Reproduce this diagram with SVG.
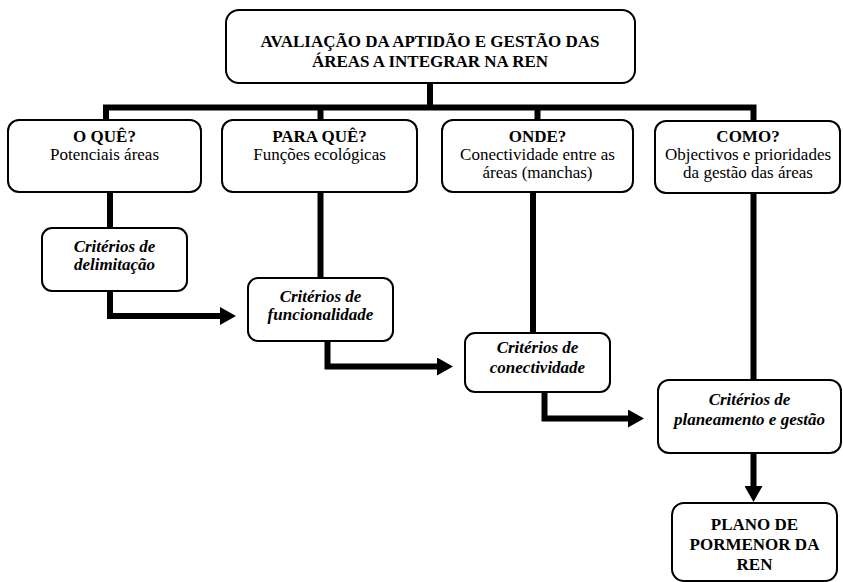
<svg xmlns="http://www.w3.org/2000/svg" width="843" height="582" viewBox="0 0 843 582">
<style>
.box{fill:#fff;stroke:#000;stroke-width:2}
.t{font-family:'Liberation Serif','Times New Roman',serif;font-size:17px;fill:#000;text-anchor:middle}
.b{font-weight:bold}
.bi{font-weight:bold;font-style:italic}
.c{fill:none;stroke:#000;stroke-width:6;stroke-linejoin:miter;stroke-linecap:butt}
</style>
<defs>
<marker id="ah" markerUnits="userSpaceOnUse" markerWidth="16" markerHeight="18" refX="0" refY="9" orient="auto" viewBox="0 0 16 18">
<path d="M0,0 L16,9 L0,18 Z" fill="#000"/>
</marker>
</defs>
<rect width="843" height="582" fill="#fff"/>
<g id="connectors">
<path class="c" d="M430,83 V107.5"/>
<path class="c" d="M106,120 V107.5 H753.5 V121"/>
<path class="c" d="M320.5,107.5 V120"/>
<path class="c" d="M537.5,107.5 V120"/>
<path class="c" d="M110,192 V228"/>
<path class="c" d="M110,291 V316 H220" marker-end="url(#ah)"/>
<path class="c" d="M320.5,192 V278"/>
<path class="c" d="M327.5,341 V366.5 H437" marker-end="url(#ah)"/>
<path class="c" d="M533,192 V333"/>
<path class="c" d="M544.5,392 V418.5 H628" marker-end="url(#ah)"/>
<path class="c" d="M753.5,193 V380"/>
<path class="c" d="M753.5,453 V486" marker-end="url(#ah)"/>
</g>
<g id="n-top">
<rect class="box" x="226" y="10" width="409" height="73" rx="13"/>
<text class="t b" x="430" y="47">AVALIAÇÃO DA APTIDÃO E GESTÃO DAS</text>
<text class="t b" x="430" y="67">ÁREAS A INTEGRAR NA REN</text>
</g>
<g id="n-oque">
<rect class="box" x="8" y="120" width="193" height="72" rx="11"/>
<text class="t b" x="104.5" y="142">O QUÊ?</text>
<text class="t" x="104.5" y="160">Potenciais áreas</text>
</g>
<g id="n-paraque">
<rect class="box" x="222" y="120" width="195" height="72" rx="11"/>
<text class="t b" x="319.5" y="142">PARA QUÊ?</text>
<text class="t" x="319.5" y="160">Funções ecológicas</text>
</g>
<g id="n-onde">
<rect class="box" x="442" y="120" width="191" height="72" rx="11"/>
<text class="t b" x="537.5" y="142">ONDE?</text>
<text class="t" x="537.5" y="160">Conectividade entre as</text>
<text class="t" x="537.5" y="178">áreas (manchas)</text>
</g>
<g id="n-como">
<rect class="box" x="655" y="121" width="185" height="72" rx="11"/>
<text class="t b" x="748" y="142">COMO?</text>
<text class="t" x="748" y="160">Objectivos e prioridades</text>
<text class="t" x="748" y="178">da gestão das áreas</text>
</g>
<g id="n-delimitacao">
<rect class="box" x="42" y="228" width="145" height="63" rx="10"/>
<text class="t bi" x="114.5" y="252">Critérios de</text>
<text class="t bi" x="114.5" y="270">delimitação</text>
</g>
<g id="n-funcionalidade">
<rect class="box" x="248" y="278" width="145" height="63" rx="10"/>
<text class="t bi" x="320.5" y="302">Critérios de</text>
<text class="t bi" x="320.5" y="320">funcionalidade</text>
</g>
<g id="n-conectividade">
<rect class="box" x="465" y="333" width="145" height="59" rx="10"/>
<text class="t bi" x="537.5" y="353">Critérios de</text>
<text class="t bi" x="537.5" y="373">conectividade</text>
</g>
<g id="n-planeamento">
<rect class="box" x="658" y="380" width="183" height="73" rx="11"/>
<text class="t bi" x="749.5" y="405">Critérios de</text>
<text class="t bi" x="749.5" y="425">planeamento e gestão</text>
</g>
<g id="n-plano">
<rect class="box" x="672" y="503" width="165" height="78" rx="12"/>
<text class="t b" x="754.5" y="530">PLANO DE</text>
<text class="t b" x="754.5" y="550">PORMENOR DA</text>
<text class="t b" x="754.5" y="570">REN</text>
</g>
</svg>
